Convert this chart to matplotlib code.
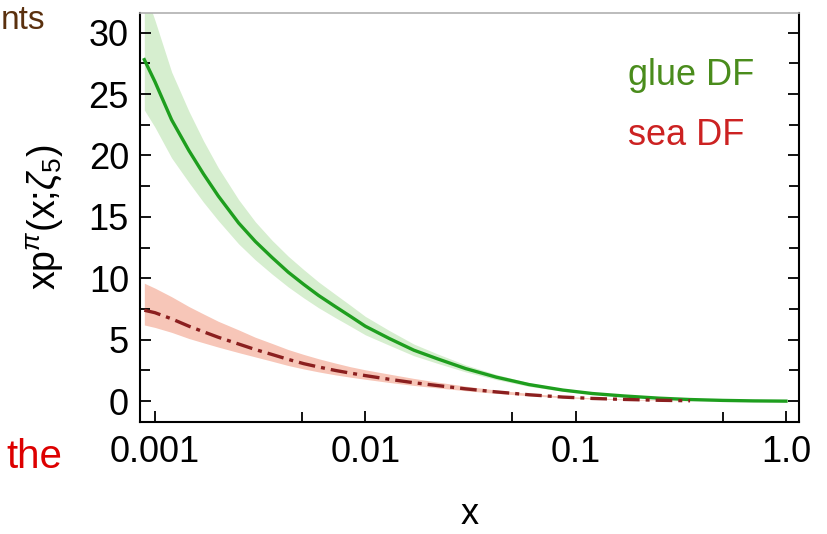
import numpy as np
import matplotlib
matplotlib.use("Agg")
import matplotlib.pyplot as plt
from matplotlib.ticker import FixedLocator, NullFormatter

plt.rcParams['font.family'] = ['Liberation Sans', 'DejaVu Sans']
plt.rcParams['mathtext.fontset'] = 'custom'
plt.rcParams['mathtext.rm'] = 'Liberation Sans'
plt.rcParams['mathtext.it'] = 'Liberation Sans:italic'

# momentum fraction grid
x = [0.00089, 0.001, 0.0012, 0.00145, 0.0017, 0.002, 0.0025, 0.003, 0.0036,
     0.0043, 0.0051, 0.006, 0.0072, 0.0085, 0.01, 0.013, 0.017, 0.022, 0.03,
     0.042, 0.06, 0.087, 0.12, 0.17, 0.25, 0.35, 0.5, 0.7, 1.0]

# glue DF: central curve and uncertainty band
glue = [27.8, 26.0, 22.9, 20.4, 18.5, 16.7, 14.5, 13.0, 11.7,
        10.5, 9.5, 8.6, 7.7, 6.9, 6.1, 5.1, 4.15, 3.45, 2.65,
        1.95, 1.35, 0.9, 0.62, 0.42, 0.24, 0.13, 0.06, 0.02, 0.0]
glue_lo = [23.7, 22.3, 19.8, 17.8, 16.2, 14.7, 12.8, 11.5, 10.35,
           9.3, 8.4, 7.6, 6.8, 6.1, 5.4, 4.55, 3.7, 3.08, 2.38,
           1.75, 1.2, 0.8, 0.55, 0.37, 0.21, 0.11, 0.05, 0.015, 0.0]
glue_hi = [33.5, 31.0, 26.8, 23.6, 21.2, 19.0, 16.4, 14.6, 13.1,
           11.8, 10.7, 9.7, 8.7, 7.8, 6.9, 5.75, 4.65, 3.85, 2.95,
           2.17, 1.5, 1.0, 0.69, 0.47, 0.27, 0.15, 0.07, 0.025, 0.0]

# sea DF: central curve and uncertainty band (up to x = 0.35)
x_sea = x[:26]
sea = [7.4, 7.2, 6.7, 6.1, 5.65, 5.2, 4.65, 4.2, 3.8,
       3.4, 3.05, 2.78, 2.5, 2.28, 2.08, 1.78, 1.5, 1.27, 1.0,
       0.75, 0.52, 0.33, 0.22, 0.14, 0.07, 0.03]
sea_lo = [6.2, 6.0, 5.6, 5.1, 4.75, 4.4, 3.95, 3.6, 3.25,
          2.9, 2.62, 2.38, 2.14, 1.95, 1.78, 1.52, 1.28, 1.08, 0.85,
          0.63, 0.44, 0.28, 0.18, 0.11, 0.05, 0.02]
sea_hi = [9.6, 9.2, 8.5, 7.7, 7.1, 6.5, 5.8, 5.2, 4.7,
          4.2, 3.8, 3.45, 3.1, 2.8, 2.55, 2.2, 1.85, 1.55, 1.22,
          0.9, 0.63, 0.4, 0.27, 0.17, 0.09, 0.04]

fig = plt.figure(figsize=(8.27, 5.34), dpi=100)
ax = fig.add_axes([0.1693, 0.2097, 0.7968, 0.766])

ax.fill_between(x, glue_lo, glue_hi, color="#d6eecf", lw=0)
ax.fill_between(x_sea, sea_lo, sea_hi, color="#f7c6b8", lw=0)
ax.plot(x, glue, color="#1e9e1e", lw=2.4)
ax.plot(x_sea, sea, color="#8b1f1f", lw=2.4, ls=(0, (5, 1.8, 1.2, 1.8)))

ax.set_xscale("log")
ax.set_xlim(0.000849, 1.153)
ax.set_ylim(-1.7, 31.6)

ax.xaxis.set_major_locator(FixedLocator([0.001, 0.01, 0.1, 1.0]))
ax.xaxis.set_minor_locator(FixedLocator([0.005, 0.05, 0.5]))
ax.xaxis.set_minor_formatter(NullFormatter())
ax.set_xticklabels(["0.001", "0.01", "0.1", "1.0"])
ax.set_yticks([0, 5, 10, 15, 20, 25, 30])
ax.set_yticks(np.arange(2.5, 30, 5), minor=True)

ax.tick_params(which="both", direction="in", width=1.3, labelsize=26,
               right=True, top=False)
ax.tick_params(which="major", length=8)
ax.tick_params(which="minor", length=7)
ax.tick_params(axis="y", pad=8)
ax.tick_params(axis="x", pad=9)

for side in ["left", "right", "bottom"]:
    ax.spines[side].set_linewidth(1.5)
ax.spines["top"].set_color("#b0b0b0")
ax.spines["top"].set_linewidth(1.2)

ax.set_xlabel("x", fontsize=26, labelpad=20)
ax.set_ylabel(r"xp$^{\pi}$(x;$\zeta_5$)", fontsize=27, labelpad=16)

ax.text(0.74, 0.824, "glue DF", transform=ax.transAxes, fontsize=26,
        color="#4a8c1c", va="baseline")
ax.text(0.74, 0.677, "sea DF", transform=ax.transAxes, fontsize=26,
        color="#cc2222", va="baseline")

fig.text(45 / 827, 1 - 29 / 534, "nts", ha="right", va="baseline",
         fontsize=24, color="#5a300e")
fig.text(62 / 827, 1 - 468 / 534, "the", ha="right", va="baseline",
         fontsize=29, color="#dd0000")

fig.savefig("out.png", dpi=100)
